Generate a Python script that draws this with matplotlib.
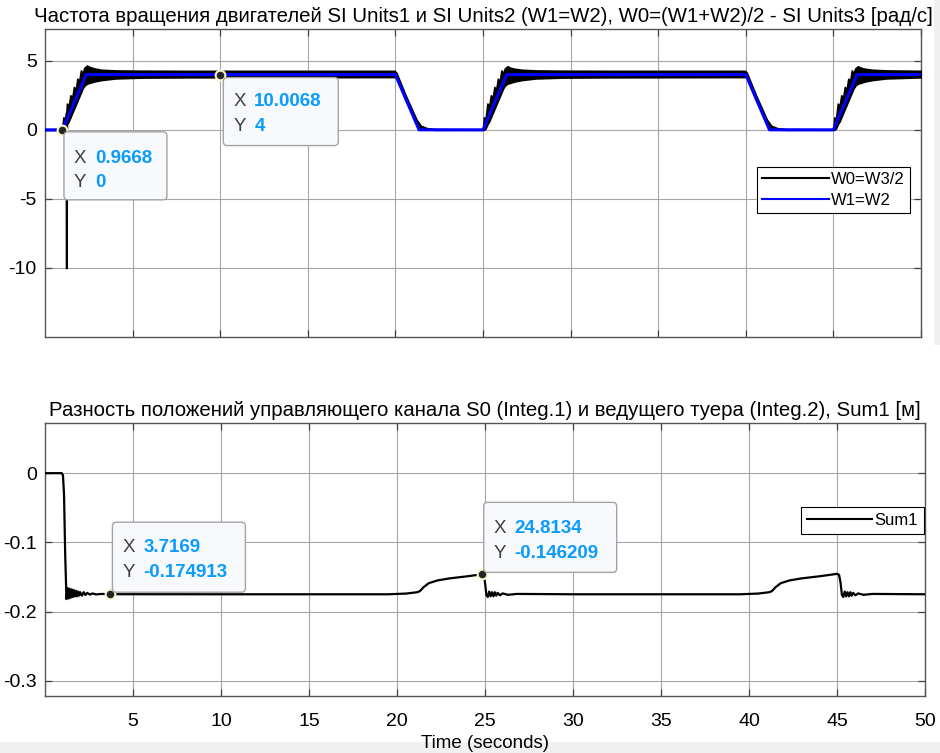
import numpy as np
import matplotlib
matplotlib.use("Agg")
import matplotlib.pyplot as plt
from matplotlib.lines import Line2D
from matplotlib.patches import FancyBboxPatch, Rectangle
from matplotlib.transforms import ScaledTranslation

plt.rcParams['font.family'] = ['Liberation Sans', 'DejaVu Sans']
plt.rcParams['axes.unicode_minus'] = False

# ---- data ----
# W1=W2 (blue), piecewise speed profile
t_w12 = [0, 1.0, 2.35, 20.0, 21.35, 25.0, 26.35, 40.0, 41.35, 45.0, 46.35, 50]
w12 = [0, 0, 4, 4, 0, 0, 4, 4, 0, 0, 4, 4]

# W0=W3/2 (black), drawn as an envelope band (hi / lo)
t_w0 = [0.00, 0.97, 1.05, 1.15, 1.19, 1.20, 1.23, 1.25, 1.35, 1.45, 1.55, 1.65, 1.75, 1.85, 1.95,
        2.05, 2.15, 2.25, 2.40, 2.55, 2.80, 3.20, 4.00, 5.50, 8.00, 19.95, 20.05, 20.60, 21.20,
        21.45, 21.80, 22.30, 25.00,
        25.05, 25.15, 25.25, 25.35, 25.45, 25.55, 25.65, 25.75, 25.85, 25.95,
        26.05, 26.15, 26.25, 26.40, 26.55, 26.80, 27.20, 28.00, 29.50, 32.00,
        39.95, 40.05, 40.60, 41.20, 41.45, 41.80, 42.30, 45.00,
        45.05, 45.15, 45.25, 45.35, 45.45, 45.55, 45.65, 45.75, 45.85, 45.95,
        46.05, 46.15, 46.25, 46.40, 46.55, 46.80, 47.20, 48.00, 49.50, 50.00]
w0_hi = [0, 0, 0.9, 0.8, 1.2, 1.2, 1.4, 1.9, 1.7, 2.5, 2.3, 3.1, 2.9, 3.7, 3.5,
         4.3, 4.1, 4.5, 4.65, 4.55, 4.45, 4.35, 4.3, 4.28, 4.27, 4.27, 4.15, 2.45, 0.75,
         0.3, 0.12, 0.05, 0.03,
         0.9, 0.8, 1.9, 1.7, 2.5, 2.3, 3.1, 2.9, 3.7, 3.5,
         4.3, 4.1, 4.45, 4.6, 4.5, 4.42, 4.35, 4.3, 4.28, 4.27,
         4.27, 4.15, 2.45, 0.75, 0.3, 0.12, 0.05, 0.03,
         0.9, 0.8, 1.9, 1.7, 2.5, 2.3, 3.1, 2.9, 3.7, 3.5,
         4.3, 4.1, 4.45, 4.6, 4.5, 4.42, 4.35, 4.3, 4.28, 4.27]
w0_lo = [0, 0, 0, 0.1, 0.3, -10, -10, 0.4, 0.6, 0.9, 1.2, 1.5, 1.8, 2.1, 2.4,
         2.7, 3.0, 3.2, 3.35, 3.4, 3.5, 3.6, 3.72, 3.78, 3.8, 3.82, 3.8, 2.1, 0.45,
         0.1, 0.02, 0, 0,
         0.0, 0.1, 0.4, 0.6, 0.9, 1.2, 1.5, 1.8, 2.1, 2.4,
         2.7, 3.0, 3.2, 3.35, 3.4, 3.5, 3.6, 3.72, 3.78, 3.8,
         3.82, 3.8, 2.1, 0.45, 0.1, 0.02, 0, 0,
         0.0, 0.1, 0.4, 0.6, 0.9, 1.2, 1.5, 1.8, 2.1, 2.4,
         2.7, 3.0, 3.2, 3.35, 3.4, 3.5, 3.6, 3.72, 3.78, 3.8]

# Sum1 position difference
t_s = [0, 0.95, 1.02, 1.08, 1.15, 1.22, 1.28, 1.34, 1.40, 1.46, 1.52, 1.58, 1.64, 1.70, 1.76,
       1.82, 1.88, 1.94, 2.00, 2.10, 2.20, 2.30, 2.40, 2.55, 2.70, 2.90, 3.20, 3.70, 10.0, 19.5,
       20.5, 21.0, 21.15, 21.3, 21.5, 21.8, 22.3, 23.0, 24.0, 24.81,
       24.92, 25.00, 25.08, 25.16, 25.24, 25.32, 25.40, 25.48, 25.56, 25.64, 25.72, 25.85, 26.0,
       26.3, 26.8, 30.0,
       39.5, 40.5, 41.0, 41.15, 41.3, 41.5, 41.8, 42.3, 43.0, 44.0, 45.0,
       45.12, 45.20, 45.28, 45.36, 45.44, 45.52, 45.60, 45.68, 45.76, 45.84, 45.92, 46.05,
       46.2, 46.5, 47.0, 50.0]
sum1 = [0, 0, -0.003, -0.03, -0.12, -0.182, -0.166, -0.181, -0.167, -0.180, -0.168, -0.179,
        -0.169, -0.178, -0.170, -0.178, -0.171, -0.177, -0.172, -0.177, -0.172, -0.176, -0.173,
        -0.1755, -0.1738, -0.1752, -0.1745, -0.1749, -0.175, -0.175,
        -0.174, -0.1725, -0.172, -0.1705, -0.165, -0.159, -0.155, -0.152, -0.149, -0.1462,
        -0.147, -0.158, -0.176, -0.179, -0.171, -0.178, -0.172, -0.178, -0.172, -0.177, -0.173,
        -0.1765, -0.1737, -0.1758, -0.1745, -0.175,
        -0.175, -0.174, -0.1725, -0.172, -0.1705, -0.165, -0.159, -0.155, -0.152, -0.149, -0.1455,
        -0.147, -0.158, -0.176, -0.179, -0.171, -0.178, -0.172, -0.178, -0.172, -0.177, -0.173,
        -0.1765, -0.1737, -0.1758, -0.1745, -0.175]

# data tips: (axes index, x, y)
tips = [(0, 0.9668, 0), (0, 10.0068, 4), (1, 3.7169, -0.174913), (1, 24.8134, -0.146209)]

title1 = "Частота вращения двигателей SI Units1 и SI Units2 (W1=W2), W0=(W1+W2)/2 - SI Units3 [рад/с]"
title2 = "Разность положений управляющего канала S0 (Integ.1) и ведущего туера (Integ.2), Sum1 [м]"
xticks = [5, 10, 15, 20, 25, 30, 35, 40, 45, 50]

# ---- figure ----
W, H = 940, 753
fig = plt.figure(figsize=(W / 100, H / 100), dpi=100)
ax1 = fig.add_axes([45 / W, 1 - 337 / H, 876 / W, 308 / H])
ax2 = fig.add_axes([45 / W, 1 - 696 / H, 880 / W, 273 / H])

edge = '#555555'
for ax in (ax1, ax2):
    ax.set_xlim(0, 50)
    ax.set_xticks(xticks)
    ax.grid(True, color='#a6a6a6', lw=0.8)
    ax.tick_params(direction='in', length=5, width=0.9, color='#404040',
                   top=True, right=True, labelsize=14, pad=6)
    for s in ax.spines.values():
        s.set_color(edge)
        s.set_linewidth(1.0)

ax1.fill_between(t_w0, w0_lo, w0_hi, facecolor='black', edgecolor='black', lw=1.2, zorder=3)
ax1.plot(t_w12, w12, color='#0000ff', lw=2.2, zorder=4)
ax1.set_ylim(-15, 7.3)
ax1.set_yticks([-10, -5, 0, 5])
ax1.set_xticklabels([])
ax1.set_title(title1, fontsize=14.7, pad=5)
h = [Line2D([], [], color='black', lw=1.5), Line2D([], [], color='#0000ff', lw=1.5)]
leg1 = ax1.legend(h, ['W0=W3/2', 'W1=W2'], loc='upper right', bbox_to_anchor=(0.9874, 0.552),
                  borderaxespad=0, fontsize=12, handlelength=4.0, handletextpad=0.15,
                  labelspacing=0.35, borderpad=0.3, fancybox=False, framealpha=1,
                  edgecolor='black')
leg1.get_frame().set_linewidth(0.8)

ax2.plot(t_s, sum1, color='black', lw=1.6, zorder=3)
ax2.set_ylim(-0.322, 0.0725)
ax2.set_yticks([-0.3, -0.2, -0.1, 0])
ax2.set_yticklabels(['-0.3', '-0.2', '-0.1', '0'])
ax2.tick_params(axis='x', pad=12)
ax2.set_title(title2, fontsize=14.7, pad=5)
ax2.set_xlabel('Time (seconds)', fontsize=13.5, labelpad=4)
leg2 = ax2.legend([Line2D([], [], color='black', lw=1.5)], ['Sum1'], loc='upper right',
                  bbox_to_anchor=(0.9989, 0.692), borderaxespad=0, fontsize=12,
                  handlelength=3.9, handletextpad=0.15, borderpad=0.35, fancybox=False,
                  framealpha=1, edgecolor='black')
leg2.get_frame().set_linewidth(0.8)

# data tip boxes, geometry in pixels relative to the marker (y up)
tip_style = [
    dict(box=(2, -70, 103, 68), xl=-29, yl=-53),
    dict(box=(3, -71, 115, 68), xl=-27, yl=-52),
    dict(box=(2, 2, 133, 70), xl=47, yl=22),
    dict(box=(2, 2, 133, 70), xl=46, yl=21),
]
axes = [ax1, ax2]
for (ai, tx, ty), st in zip(tips, tip_style):
    ax = axes[ai]
    ax.plot(tx, ty, 'o', ms=7, mfc='#262626', mec='#fbf6d0', mew=1.5, zorder=6, clip_on=False)
    tr = fig.dpi_scale_trans + ScaledTranslation(tx, ty, ax.transData)
    bx, by, bw, bh = st['box']
    ax.add_patch(FancyBboxPatch((bx / 100, by / 100), bw / 100, bh / 100,
                                boxstyle='round,pad=0,rounding_size=0.04', transform=tr,
                                facecolor='#f8f9fd', edgecolor='#a3a3a3', lw=1.0,
                                zorder=7, clip_on=False))
    for key, name, val in (('xl', 'X', tx), ('yl', 'Y', ty)):
        ax.text((bx + 10) / 100, st[key] / 100, name, transform=tr, fontsize=13.5,
                color='#404040', va='center', ha='left', zorder=8, clip_on=False)
        ax.text((bx + 31) / 100, st[key] / 100, f"{val:g}", transform=tr, fontsize=13.5,
                color='#0a9bff', fontweight='bold', va='center', ha='left', zorder=8,
                clip_on=False)

# window chrome strips (behind the axes and their labels)
fig.add_artist(Rectangle((934 / W, 1 - 345 / H), 6 / W, 345 / H, transform=fig.transFigure,
                         facecolor='#f0f0f0', edgecolor='none', zorder=-1))
fig.add_artist(Rectangle((0, 0), 1, 11 / H, transform=fig.transFigure,
                         facecolor='#f0f0f0', edgecolor='none', zorder=-1))

fig.savefig('out.png', dpi=100)
